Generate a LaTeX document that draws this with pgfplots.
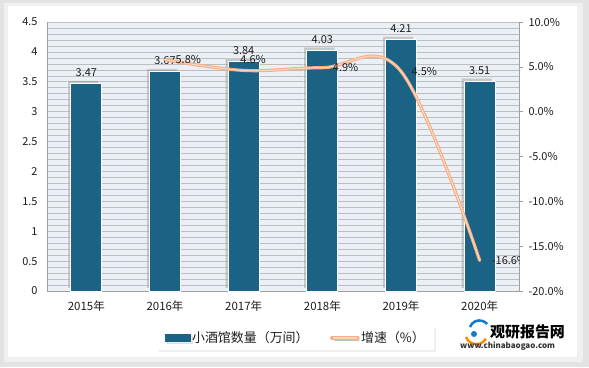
\documentclass[border=0pt]{standalone}
\usepackage{pgfplots}
\pgfplotsset{compat=1.18}
\usepackage{fontspec}
\setmainfont{Noto Sans CJK SC}
\usetikzlibrary{shadows,backgrounds,calc}
\definecolor{barc}{RGB}{27,99,133}
\definecolor{plotbg}{RGB}{234,240,246}
\definecolor{gridc}{RGB}{190,190,190}
\definecolor{axc}{RGB}{160,160,160}
\definecolor{linec}{RGB}{246,174,134}
\definecolor{linel}{RGB}{252,214,192}
\definecolor{txt}{RGB}{30,30,30}
\begin{document}
\begin{tikzpicture}
\begin{axis}[
  name=ax,
  scale only axis, width=472bp, height=269bp,
  xmin=-0.5, xmax=5.5, ymin=0, ymax=4.5,
  xtick={0,1,2,3,4,5},
  xticklabels={2015年,2016年,2017年,2018年,2019年,2020年},
  x tick label style={font=\fontsize{11.5}{12}\selectfont, text=txt, yshift=-6bp},
  ytick={0,0.5,...,4.5},
  yticklabels={0,0.5,1,1.5,2,2.5,3,3.5,4,4.5},
  y tick label style={font=\fontsize{11}{12}\selectfont, text=txt, xshift=-6bp},
  minor y tick num=4,
  ymajorgrids, yminorgrids,
  major grid style={gridc, line width=0.6bp},
  minor grid style={gridc, line width=0.6bp},
  major tick length=0pt, minor tick length=0pt,
  axis background/.style={fill=plotbg},
  axis line style={axc},
  axis y line*=left, axis x line*=bottom,
  legend style={at={(0.233,-0.175)}, anchor=west, draw=none, fill=white,
    legend columns=2, font=\fontsize{13}{14}\selectfont, text=txt,
    /tikz/every even column/.append style={column sep=20bp},
    /tikz/every odd column/.append style={column sep=0bp},
    nodes={inner sep=1.5bp},
    drop shadow={shadow xshift=2bp, shadow yshift=-2bp, opacity=0.12},
    inner xsep=8bp, inner ysep=4bp},
]
\addplot[ybar, bar width=31bp, fill=barc, draw=white, line width=0.8bp,
  drop shadow={shadow xshift=-3bp, shadow yshift=3bp, opacity=0.35, fill=gray},
  nodes near coords, nodes near coords style={font=\fontsize{11}{12}\selectfont, text=txt, yshift=3bp},
  point meta=explicit symbolic, forget plot]
  table[meta=label] {
x y label
0 3.47 3.47
1 3.67 3.67
2 3.84 3.84
3 4.03 4.03
4 4.21 4.21
5 3.51 3.51
};
\addlegendimage{legend image code/.code={\fill[barc] (0bp,-3bp) rectangle (25bp,3.5bp);}}
\addlegendentry{小酒馆数量（万间）}
\addlegendimage{legend image code/.code={\draw[linec, line width=3.5bp, line cap=round] (1bp,0bp) -- (27bp,0bp); \draw[linel, line width=1.2bp] (2bp,0bp) -- (26bp,0bp);}}
\addlegendentry{增速（\%）}
\end{axis}
\begin{axis}[
  scale only axis, width=472bp, height=269bp,
  xmin=-0.5, xmax=5.5, ymin=-20, ymax=10,
  axis x line=none,
  axis y line*=right,
  axis line style={axc},
  ytick={-20,-15,...,10},
  yticklabel={\pgfmathprintnumber[fixed,fixed zerofill,precision=1]{\tick}\%},
  y tick label style={font=\fontsize{11}{12}\selectfont, text=txt, xshift=2bp},
  /pgf/number format/assume math mode=true,
  major tick length=4bp, tick style={axc, line width=0.6bp},
  tick align=outside,
]
\addplot[linec, line width=3.2bp, smooth, tension=0.6, line cap=round] coordinates {(1,5.8) (2,4.6) (3,4.9) (4,4.5) (5,-16.6)};
\addplot[linel, line width=1.1bp, smooth, tension=0.6] coordinates {(1,5.8) (2,4.6) (3,4.9) (4,4.5) (5,-16.6)};
\begin{scope}[font=\fontsize{11}{12}\selectfont, text=txt]
\node[anchor=west, inner sep=1bp] at (axis cs:1.12,5.8) {5.8\%};
\node[anchor=south, inner sep=1bp] at (axis cs:2.12,5.2) {4.6\%};
\node[anchor=west, inner sep=1bp] at (axis cs:3.12,4.9) {4.9\%};
\node[anchor=west, inner sep=1bp] at (axis cs:4.12,4.5) {4.5\%};
\node[anchor=west, inner sep=1bp] at (axis cs:5.14,-16.6) {-16.6\%};
\end{scope}
\end{axis}
\begin{scope}[shift={($(ax.south west)+(-47bp,-76bp)$)}, x=1bp, y=1bp]
\begin{scope}[on background layer]
\fill[gray!22] (0,0) rectangle (589,367);
\fill[gray!12] (4,5) rectangle (583,364);
\fill[white] (8,10) rectangle (577,361);
\end{scope}
\draw[orange!90!yellow, line width=2.5bp] (466,30) arc (200:330:11);
\draw[cyan!60!blue, line width=2.5bp] (470,40) arc (160:40:10);
\fill[cyan!60!blue] (474,33) circle (3);
\node[anchor=west, font=\fontsize{15}{16}\selectfont\bfseries, inner sep=0] at (490,35) {观研报告网};
\node[anchor=west, font=\fontsize{8}{9}\selectfont\bfseries, text=black!80, inner sep=0] at (460,21) {www.chinabaogao.com};
\pgfresetboundingbox
\path[use as bounding box] (0,0) rectangle (589,367);
\end{scope}
\end{tikzpicture}
\end{document}
